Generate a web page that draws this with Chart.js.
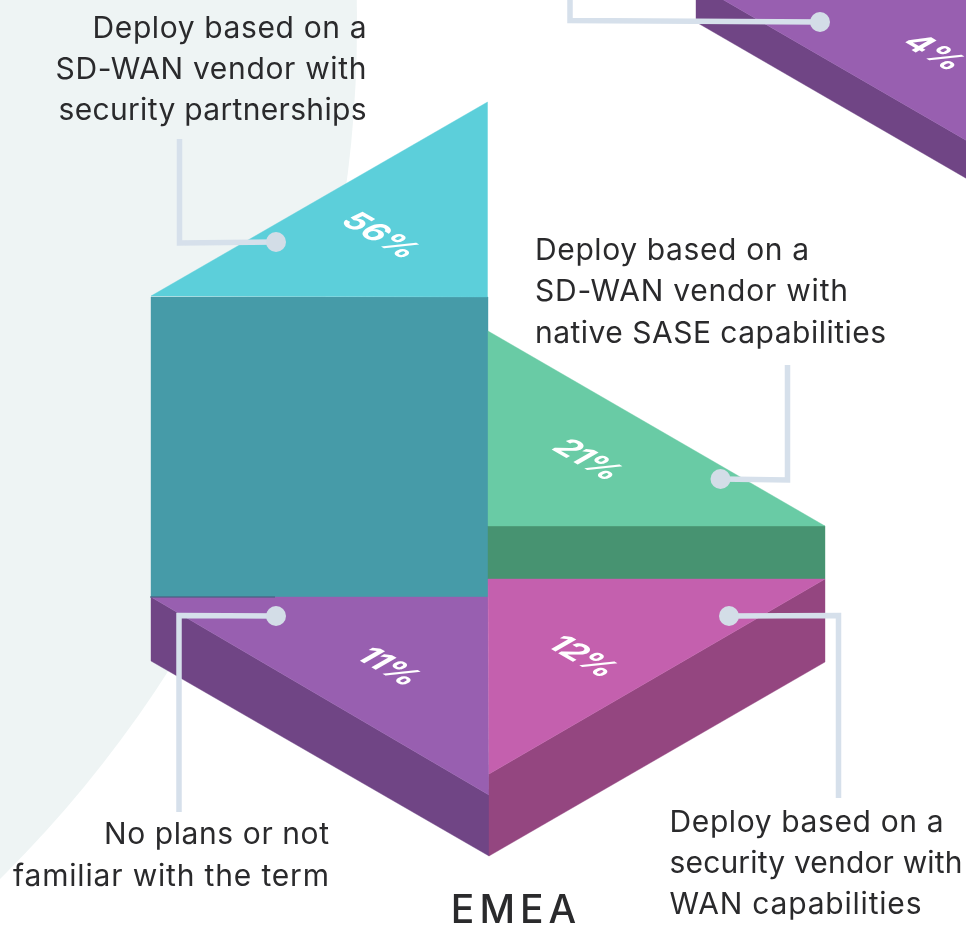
<!DOCTYPE html>
<html><head><meta charset="utf-8">
<style>html,body{margin:0;padding:0;background:#fff;overflow:hidden}canvas{display:block}</style>
<script src="https://cdn.jsdelivr.net/npm/chart.js@4/dist/chart.umd.min.js"></script>
</head><body><canvas id="c" width="966" height="926"></canvas>
<script>
// ---- data ----
const categories = [
  "Deploy based on a SD-WAN vendor with security partnerships",
  "Deploy based on a SD-WAN vendor with native SASE capabilities",
  "Deploy based on a security vendor with WAN capabilities",
  "No plans or not familiar with the term",
  "Other (top right, cropped)"
];
const shares = [56, 21, 12, 11, 4];
const regionTitle = "EMEA";

// ---- layout of the pictorial (in axis units of a 966 x 926 plane) ----
const topFaces = [
  [[151,296],[487.5,102],[487.5,297]],
  [[488,331],[825,526],[488,526]],
  [[488,579],[825,579],[489,774]],
  [[151,597],[488,597],[489,795]],
  [[696,-16],[1033,-16],[1033,179]]
];
const sideFaces = [
  [[151,297],[488,297],[488,597],[151,597]],
  [[488,526],[825,526],[825,579],[488,579]],
  [[825,579],[825,662],[489,856],[489,774]],
  [[151,597],[489,795],[489,856],[151,661]],
  [[696,-16],[1033,179],[1033,217],[696,22]]
];
const topColors  = ["#5CCFDA","#69CBA5","#C460AE","#985FB0","#985FB0"];
const sideColors = ["#469BA8","#479371","#944680","#704585","#704585"];
const paintOrder = [4,0,1,3,2];
const callouts = [
  [[179.5,139],[179.5,243],[276,242]],
  [[787.5,365],[787.5,480],[720.5,479]],
  [[838.5,798],[838.5,615.5],[729,616]],
  [[179,812],[179,615.5],[276,616]],
  [[570,-10],[570,20.5],[820,22]]
];
const pctCenters = [[380,236],[587,460],[582,657],[388,667],[934,53]];
const pctSpacing = [0,-1,-1,-1,1];
const captions = [
  {x:366.5, align:"right", y:[38,79,120], lines:["Deploy based on a","SD-WAN vendor with","security partnerships"], widths:[274,311,308]},
  {x:535,   align:"left",  y:[260,301,343], lines:["Deploy based on a","SD-WAN vendor with","native SASE capabilities"], widths:[274,313,351]},
  {x:669.5, align:"left",  y:[832,873,914], lines:["Deploy based on a","security vendor with","WAN capabilities"], widths:[274,293,252]},
  {x:329,   align:"right", y:[844,886], lines:["No plans or not","familiar with the term"], widths:[225,316]}
];
const backdrop = {x:-843, y:25, r:1200, color:"#EEF4F4"};
const FONT = '"Inter"';

const toPts = a => a.map(p => ({x:p[0], y:p[1]}));
const datasets = [];
paintOrder.forEach(i => {
  datasets.push({label:categories[i]+" side", data:toPts(sideFaces[i]), polygon:sideColors[i], borderColor:sideColors[i], borderWidth:0, pointRadius:0, showLine:false, clip:false});
  datasets.push({label:categories[i]+" top",  data:toPts(topFaces[i]),  polygon:topColors[i],  borderColor:topColors[i],  borderWidth:0, pointRadius:0, showLine:false, clip:false});
});
datasets.push({label:"seam", data:toPts([[150,597],[275,597]]), showLine:true, borderColor:"#3A5F78", borderWidth:1, pointRadius:0, clip:false});
callouts.forEach((c,i) => {
  datasets.push({label:categories[i]+" leader", data:toPts(c), showLine:true, borderColor:"#D6E0EB", borderWidth:5.5, borderJoinStyle:"miter", borderCapStyle:"butt", tension:0, clip:false,
    pointRadius:[0,0,10], pointHoverRadius:[0,0,10], pointBackgroundColor:"#D3DDE7", pointBorderWidth:0});
});
datasets.forEach((d,i) => d.order = -i);

const pictorial = {
  id:"pictorial",
  beforeDatasetsDraw(chart){
    const {ctx, scales:{x,y}} = chart;
    ctx.save();
    ctx.fillStyle = backdrop.color;
    ctx.beginPath();
    ctx.arc(x.getPixelForValue(backdrop.x), y.getPixelForValue(backdrop.y), backdrop.r, 0, Math.PI*2);
    ctx.fill();
    ctx.restore();
  },
  beforeDatasetDraw(chart,args){
    const ds = chart.data.datasets[args.index];
    if(!ds.polygon) return;
    const {ctx} = chart, pts = args.meta.data;
    ctx.save();
    ctx.fillStyle = ctx.strokeStyle = ds.polygon;
    ctx.lineWidth = .4;
    ctx.beginPath();
    pts.forEach((p,i) => i ? ctx.lineTo(p.x,p.y) : ctx.moveTo(p.x,p.y));
    ctx.closePath(); ctx.fill(); ctx.stroke();
    ctx.restore();
  },
  afterDatasetsDraw(chart){
    const {ctx, scales:{x,y}} = chart;
    ctx.save();
    ctx.fillStyle = "#FFFFFF"; ctx.textAlign = "center"; ctx.textBaseline = "middle";
    ctx.font = '700 33px '+FONT;
    shares.forEach((v,i) => {
      ctx.save();
      ctx.letterSpacing = pctSpacing[i]+"px";
      ctx.transform(.866,.5,-.866,.5, x.getPixelForValue(pctCenters[i][0]), y.getPixelForValue(pctCenters[i][1]));
      ctx.fillText(v+"%",0,0);
      ctx.restore();
    });
    ctx.fillStyle = "#2A2A2C"; ctx.textBaseline = "alphabetic"; ctx.textAlign = "left";
    ctx.font = '400 30px '+FONT;
    captions.forEach(c => {
      c.lines.forEach((t,j) => {
        ctx.letterSpacing = "0px";
        const natural = ctx.measureText(t).width;
        ctx.letterSpacing = ((c.widths[j]-natural)/(t.length-1)).toFixed(3)+"px";
        const left = c.align==="right" ? c.x-c.widths[j] : c.x;
        ctx.fillText(t, x.getPixelForValue(left), y.getPixelForValue(c.y[j]));
      });
    });
    ctx.font = '500 39px '+FONT; ctx.letterSpacing = "5px"; ctx.textAlign = "center";
    ctx.fillText(regionTitle, x.getPixelForValue(516), y.getPixelForValue(923));
    ctx.restore();
  }
};

new Chart(document.getElementById("c"), {
  type:"scatter",
  data:{datasets},
  plugins:[pictorial],
  options:{
    responsive:false, animation:false, events:[],
    layout:{padding:0, autoPadding:false},
    plugins:{legend:{display:false}, tooltip:{enabled:false}},
    scales:{
      x:{type:"linear", min:0, max:966, display:false},
      y:{type:"linear", min:0, max:926, reverse:true, display:false}
    }
  }
});
</script></body></html>
